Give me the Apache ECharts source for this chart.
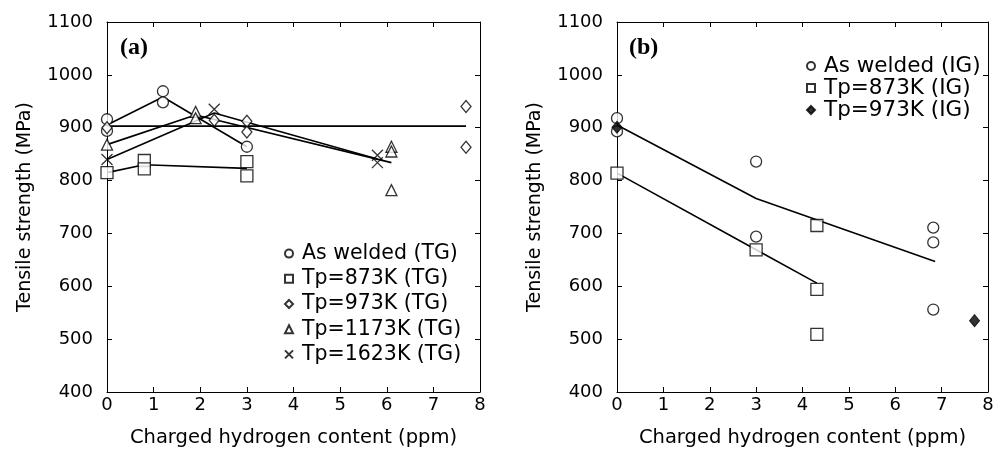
<!DOCTYPE html>
<html><head><meta charset="utf-8">
<script src="https://cdn.jsdelivr.net/npm/echarts@6/dist/echarts.min.js"></script>
<style>html,body{margin:0;padding:0;background:#fff}#c{width:998px;height:454px}</style>
</head><body><div id="c"></div>
<script>
// ---------- Panel (a): transgranular (TG) ----------
const asWeldedTG = [[0,916],[0,894],[1.2,969],[1.2,948],[3,864]];
const tp873TG    = [[0,815],[0.8,838],[0.8,822],[3,836],[3,809]];
const tp973TG    = [[0,900],[2.3,914],[3,912],[3,892],[7.7,940],[7.7,863]];
const tp1173TG   = [[0,868],[1.9,930],[1.9,918],[6.1,864],[6.1,855],[6.1,782]];
const tp1623TG   = [[0,840],[2.3,935],[5.8,848],[5.8,834]];
// mean lines (a)
const asWeldedTGLine = [[0,905],[1.2,958],[3,864]];
const tp873TGLine    = [[0,815],[0.8,830],[3,823]];
const tp973TGLine    = [[0,903],[7.7,903]];
const tp1173TGLine   = [[0,868],[1.9,924],[6.1,834]];
const tp1623TGLine   = [[0,840],[2.3,928],[5.8,841]];

// ---------- Panel (b): intergranular (IG) ----------
const asWeldedIG = [[0,918],[0,893],[3,836],[3,694],[6.82,711],[6.82,683],[6.82,556]];
const tp873IG    = [[0,814],[3,669],[4.31,715],[4.31,594],[4.31,509]];
const tp973IG    = [[0,901],[7.71,535]];
// mean lines (b)
const asWeldedIGLine = [[0,905],[3,766],[6.86,647]];
const tp873IGLine    = [[0,814],[3,669],[4.31,606]];

// axes ticks
const xMin = 0, xMax = 8, xStep = 1;
const yMin = 400, yMax = 1100, yStep = 100;

const FONT = 'DejaVu Sans';
const XPATH = 'path://M0,0L10,10M10,0L0,10';

function xAx(grid, pos, main) {
  return {
    type: 'value', gridIndex: grid, position: pos, min: xMin, max: xMax, interval: xStep,
    name: main ? 'Charged hydrogen content (ppm)' : '', nameLocation: 'middle', nameGap: 36,
    nameTextStyle: { fontFamily: FONT, fontSize: 19.5, color: '#000' },
    axisLine: { show: true, onZero: false, lineStyle: { color: '#000', width: 1 } },
    axisTick: { show: true, inside: true, length: 5, lineStyle: { color: '#000' } },
    axisLabel: { show: main, margin: 4, fontFamily: FONT, fontSize: 18, color: '#000',
      formatter: v => String(v) },
    splitLine: { show: false }
  };
}
function yAx(grid, pos, main) {
  return {
    type: 'value', gridIndex: grid, position: pos, min: yMin, max: yMax, interval: yStep,
    name: main ? 'Tensile strength (MPa)' : '', nameLocation: 'middle', nameGap: 72,
    nameTextStyle: { fontFamily: FONT, fontSize: 19, color: '#000' },
    axisLine: { show: true, onZero: false, lineStyle: { color: '#000', width: 1 } },
    axisTick: { show: true, inside: true, length: 5, lineStyle: { color: '#000' } },
    axisLabel: { show: main, margin: 14, fontFamily: FONT, fontSize: 18, color: '#000',
      formatter: v => String(v) },
    splitLine: { show: false }
  };
}

const openStyle = { color: '#fff', borderColor: '#000', borderWidth: 1.3 };

function sc(name, data, symbol, size, xi, style) {
  return { type: 'scatter', name, data, symbol, symbolSize: size, xAxisIndex: xi, yAxisIndex: xi,
    itemStyle: style || openStyle, z: 5, emphasis: { disabled: true } };
}
function ln(name, data, xi) {
  return { type: 'line', name, data, xAxisIndex: xi, yAxisIndex: xi, symbol: 'none', showSymbol: false,
    lineStyle: { color: '#000', width: 1.6 }, z: 2, emphasis: { disabled: true } };
}

const xStyle = { color: '#000', borderColor: '#000', borderWidth: 1.3 };
const legText = (fs, lh) => ({ fontFamily: FONT, fontSize: fs, color: '#000', lineHeight: lh, padding: [0, 0, 0, 4] });

const option = {
  animation: false,
  backgroundColor: '#fff',
  grid: [
    { left: 107, right: 518, top: 22, bottom: 62 },
    { left: 617, right: 10, top: 22, bottom: 62 }
  ],
  title: [
    { text: '(a)', left: 115, top: 31, textStyle: { fontFamily: 'Liberation Serif', fontWeight: 'bold', fontSize: 24, color: '#000' } },
    { text: '(b)', left: 624, top: 31, textStyle: { fontFamily: 'Liberation Serif', fontWeight: 'bold', fontSize: 24, color: '#000' } }
  ],
  xAxis: [xAx(0, 'bottom', true), xAx(0, 'top', false), xAx(1, 'bottom', true), xAx(1, 'top', false)],
  yAxis: [yAx(0, 'left', true), yAx(0, 'right', false), yAx(1, 'left', true), yAx(1, 'right', false)],
  legend: [
    {
      orient: 'vertical', left: 279, top: 236, itemWidth: 8, itemHeight: 8, itemGap: 0,
      textStyle: legText(20.5, 25.2), selectedMode: false,
      data: [
        { name: 'As welded (TG)', icon: 'circle' },
        { name: 'Tp=873K (TG)', icon: 'rect' },
        { name: 'Tp=973K (TG)', icon: 'diamond' },
        { name: 'Tp=1173K (TG)', icon: 'triangle' },
        { name: 'Tp=1623K (TG)', icon: XPATH }
      ]
    },
    {
      orient: 'vertical', left: 801, top: 50, itemWidth: 8, itemHeight: 8, itemGap: 0,
      textStyle: legText(21.5, 21.7), selectedMode: false,
      data: [
        { name: 'As welded (IG)', icon: 'circle' },
        { name: 'Tp=873K (IG)', icon: 'rect' },
        { name: 'Tp=973K (IG)', icon: 'diamond' }
      ]
    }
  ],
  series: [
    ln('l1', asWeldedTGLine, 0), ln('l2', tp873TGLine, 0), ln('l3', tp973TGLine, 0),
    ln('l4', tp1173TGLine, 0), ln('l5', tp1623TGLine, 0),
    ln('l6', asWeldedIGLine, 2), ln('l7', tp873IGLine, 2),
    sc('As welded (TG)', asWeldedTG, 'circle', 11, 0),
    sc('Tp=873K (TG)', tp873TG, 'rect', 12, 0),
    sc('Tp=973K (TG)', tp973TG, 'diamond', [10, 12], 0),
    sc('Tp=1173K (TG)', tp1173TG, 'triangle', 11, 0),
    sc('Tp=1623K (TG)', tp1623TG, XPATH, 11, 0, xStyle),
    sc('As welded (IG)', asWeldedIG, 'circle', 11, 2),
    sc('Tp=873K (IG)', tp873IG, 'rect', 12, 2),
    sc('Tp=973K (IG)', tp973IG, 'diamond', [10, 12], 2, { color: '#000', borderColor: '#000', borderWidth: 1 })
  ]
};

const chart = echarts.init(document.getElementById('c'), null, { renderer: 'canvas' });
chart.setOption(option);
</script>
</body></html>
